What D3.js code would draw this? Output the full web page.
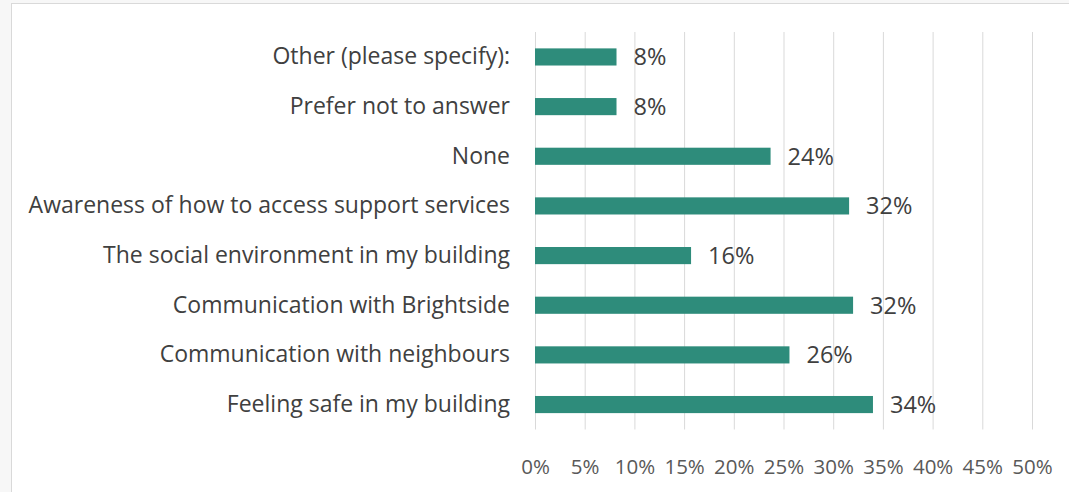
<!DOCTYPE html>
<html>
<head>
<meta charset="utf-8">
<script src="https://cdn.jsdelivr.net/npm/d3@7"></script>
<style>
  html, body { margin: 0; padding: 0; background: #f7f7f7; }
  svg { display: block; }
  .cat text { font-family: "Open Sans", sans-serif; font-size: 23px; fill: #404040; }
  .val { font-family: "Open Sans", sans-serif; font-size: 23.5px; fill: #404040; }
  .xaxis text { font-family: "Open Sans", sans-serif; font-size: 20.5px; fill: #595959; }
</style>
</head>
<body>
<svg id="chart" width="1069" height="492"></svg>
<script>
// Survey responses, top to bottom
const categories = [
  "Other (please specify):",
  "Prefer not to answer",
  "None",
  "Awareness of how to access support services",
  "The social environment in my building",
  "Communication with Brightside",
  "Communication with neighbours",
  "Feeling safe in my building"
];
const shares = [8.2, 8.2, 23.7, 31.6, 15.7, 32.0, 25.6, 34.0];
const tickValues = [0, 5, 10, 15, 20, 25, 30, 35, 40, 45, 50];

const svg = d3.select("#chart");
const W = 1069, H = 492;
const margin = { top: 32, right: 37, bottom: 62.5, left: 535 };

// chart panel with light frame on top and left
svg.append("rect")
  .attr("x", 11.5).attr("y", 3.5)
  .attr("width", W).attr("height", H)
  .attr("fill", "#ffffff")
  .attr("stroke", "#d9d9d9").attr("stroke-width", 1);

const x = d3.scaleLinear().domain([0, 50]).range([margin.left, W - margin.right]);
const y = d3.scaleBand().domain(categories).range([margin.top, H - margin.bottom]).paddingInner(0.655).paddingOuter(0.33);

// vertical gridlines
svg.append("g")
  .selectAll("line")
  .data(tickValues)
  .join("line")
  .attr("x1", d => x(d) + 0.5).attr("x2", d => x(d) + 0.5)
  .attr("y1", margin.top).attr("y2", H - margin.bottom)
  .attr("stroke", "#d9d9d9").attr("stroke-width", 1);

// x axis labels
const xAxis = d3.axisBottom(x).tickValues(tickValues).tickFormat(d => d + "%").tickSize(0).tickPadding(0);
const gx = svg.append("g").attr("class", "xaxis")
  .attr("transform", `translate(0,459.5)`)
  .call(xAxis);
gx.select(".domain").remove();

// category labels
const yAxis = d3.axisLeft(y).tickSize(0).tickPadding(25);
const gy = svg.append("g").attr("class", "cat")
  .attr("transform", `translate(${margin.left},0)`)
  .call(yAxis);
gy.select(".domain").remove();

// bars
svg.append("g")
  .selectAll("rect")
  .data(categories)
  .join("rect")
  .attr("x", x(0))
  .attr("y", d => y(d))
  .attr("width", (d, i) => x(shares[i]) - x(0))
  .attr("height", y.bandwidth())
  .attr("fill", "#2e8c7b");

// value labels
const fmt = v => d3.format(".0f")(v) + "%";
svg.append("g")
  .selectAll("text")
  .data(categories)
  .join("text")
  .attr("class", "val")
  .attr("x", (d, i) => x(shares[i]) + 17)
  .attr("y", d => y(d) + y.bandwidth() / 2)
  .attr("dy", "0.355em")
  .text((d, i) => fmt(shares[i]));
</script>
</body>
</html>
